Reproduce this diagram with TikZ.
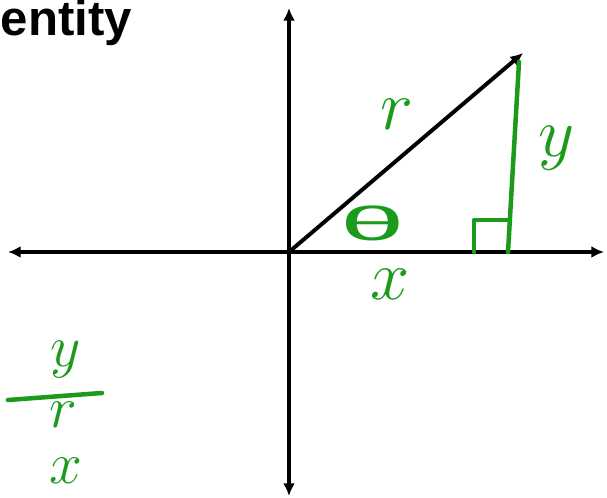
\RequirePackage{fix-cm}
\documentclass[tikz,border=0pt]{standalone}
\usepackage{fontspec}
\setmainfont{Liberation Sans}
\usetikzlibrary{arrows.meta}
\definecolor{pen}{HTML}{1C9A1C}

\begin{document}
\begin{tikzpicture}[x=0.025cm,y=-0.025cm,line width=2.8pt,
    tip/.style={-{Latex[length=9pt,width=8.5pt]}},
    ink/.style={draw=pen,line width=3.2pt,line cap=round,line join=round},
    hand/.style={text=pen,inner sep=0pt,font=\fontsize{50}{50}\selectfont}]
  \useasboundingbox (0,0) rectangle (607,498);
  % title, cut at the left edge
  \node[anchor=base west,inner sep=0pt,font=\fontsize{35}{38}\selectfont\bfseries] (title) at (-1,36) {entity};
  % axes
  \coordinate (O) at (289,252);
  \coordinate (xl) at (8,252);
  \coordinate (xr) at (604,252);
  \coordinate (yt) at (289,8);
  \coordinate (yb) at (289,496);
  \draw[{Latex[length=9pt,width=8.5pt]}-{Latex[length=9pt,width=8.5pt]}] (xl) -- (xr);
  \draw[{Latex[length=9pt,width=8.5pt]}-{Latex[length=9pt,width=8.5pt]}] (yb) -- (yt);
  % radius
  \coordinate (P) at (523,53);
  \draw[tip] (O) -- (P);
  % opposite side and right angle
  \coordinate (top) at (519,62);
  \coordinate (foot) at (508,252);
  \coordinate (c1) at (474,252);
  \coordinate (c2) at (474,220);
  \coordinate (c3) at (509,220);
  \draw[ink] (top) -- (foot);
  \draw[ink] (c1) -- (c2) -- (c3);
  % labels of the triangle
  \node[hand] (r) at (397,114) {$r$};
  \node[hand] (y) at (557,148) {$y$};
  \node[hand,xscale=1.65,yscale=0.68] (th) at (373,223) {θ};
  \node[hand] (x) at (390,284) {$x$};
  % ratio at the bottom left
  \node[hand,font=\fontsize{42}{42}\selectfont] (fy) at (66,360) {$y$};
  \coordinate (b1) at (8,400);
  \coordinate (b2) at (102,393);
  \draw[ink] (b1) -- (b2);
  \node[hand,font=\fontsize{42}{42}\selectfont] (fr) at (63,415) {$r$};
  \node[hand,font=\fontsize{42}{42}\selectfont] (fx) at (66,471) {$x$};
\end{tikzpicture}
\end{document}
